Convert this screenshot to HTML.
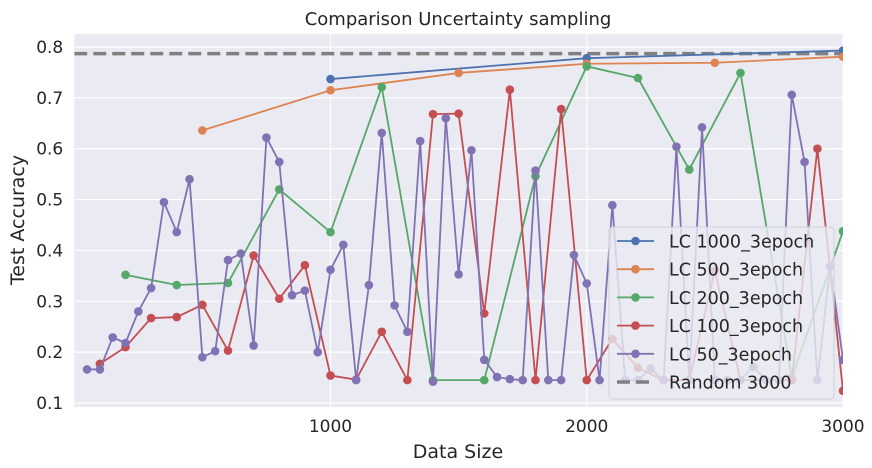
<!DOCTYPE html>
<html><head><meta charset="utf-8"><style>
body{margin:0;background:#fff;}
svg{display:block;font-family:"DejaVu Sans","Liberation Sans",sans-serif;}
</style></head><body>
<svg id="chart" width="872" height="468"></svg>
<script>
const xTicks=[1000,2000,3000];
const yTicks=[0.1,0.2,0.3,0.4,0.5,0.6,0.7,0.8];
const x50=[50,100,150,200,250,300,350,400,450,500,550,600,650,700,750,800,850,900,950,1000,1050,1100,1150,1200,1250,1300,1350,1400,1450,1500,1550,1600,1650,1700,1750,1800,1850,1900,1950,2000,2050,2100,2150,2200,2250,2300,2350,2400,2450,2500,2550,2600,2650,2700,2750,2800,2850,2900,2950,3000];
const y50=[0.166,0.166,0.229,0.218,0.280,0.326,0.495,0.436,0.540,0.190,0.202,0.381,0.394,0.213,0.622,0.574,0.312,0.321,0.200,0.362,0.411,0.145,0.332,0.631,0.292,0.240,0.615,0.142,0.660,0.353,0.597,0.185,0.151,0.147,0.145,0.557,0.145,0.145,0.391,0.335,0.145,0.489,0.145,0.145,0.168,0.145,0.604,0.145,0.642,0.145,0.145,0.145,0.171,0.145,0.145,0.706,0.574,0.145,0.369,0.185];
const x100=[100,200,300,400,500,600,700,800,900,1000,1100,1200,1300,1400,1500,1600,1700,1800,1900,2000,2100,2200,2300,2400,2500,2600,2700,2800,2900,3000];
const y100=[0.177,0.210,0.267,0.269,0.293,0.203,0.390,0.305,0.371,0.154,0.146,0.240,0.145,0.668,0.669,0.276,0.716,0.145,0.678,0.145,0.226,0.169,0.145,0.145,0.360,0.145,0.145,0.145,0.600,0.124];
const x200=[200,400,600,800,1000,1200,1400,1600,1800,2000,2200,2400,2600,2800,3000];
const y200=[0.352,0.332,0.336,0.520,0.436,0.721,0.145,0.145,0.546,0.762,0.739,0.559,0.749,0.150,0.438];
const x500=[500,1000,1500,2000,2500,3000];
const y500=[0.636,0.715,0.749,0.767,0.769,0.781];
const x1000=[1000,2000,3000];
const y1000=[0.737,0.778,0.793];
const randomVal=0.787;

const L=74.25,R=843,T=34,B=407;
const sx=v=>L+v*0.25625;
const sy=v=>47+(0.8-v)*508.6;
const NS="http://www.w3.org/2000/svg";
const svg=document.getElementById('chart');
function mk(tag,attrs,parent){const e=document.createElementNS(NS,tag);for(const k in attrs)e.setAttribute(k,attrs[k]);(parent||svg).appendChild(e);return e;}
const bg=mk('rect',{x:L,y:T,width:R-L,height:B-T,fill:'#eaeaf2'});


const defs=mk('defs',{});
const cp=mk('clipPath',{id:'clip'},defs);mk('rect',{x:L,y:T,width:R-L,height:B-T},cp);
yTicks.forEach(v=>{
  const g=mk('line',{x1:L,x2:R,y1:sy(v),y2:sy(v),stroke:'#fff','stroke-width':1.2});
  
  
  const t=mk('text',{x:L-11,y:sy(v)+6,'text-anchor':'end','font-size':17,fill:'#262626'});
  t.textContent=v.toFixed(1);
  
  
});
xTicks.forEach(v=>{
  const g=mk('line',{x1:sx(v),x2:sx(v),y1:T,y2:B,stroke:'#fff','stroke-width':1.2});
  
  
  const t=mk('text',{x:sx(v),y:432,'text-anchor':'middle','font-size':17,fill:'#262626'});
  t.textContent=String(v);
  
  
});
const plot=mk('g',{'clip-path':'url(#clip)'});


const rl=mk('line',{x1:L,x2:R,y1:sy(randomVal),y2:sy(randomVal),stroke:'#808080','stroke-width':3.5,'stroke-dasharray':'13,6'},plot);


function series(xs,ys,color,name){
  const g=mk('g',{},plot);
  
  
  mk('polyline',{points:xs.map((x,i)=>sx(x)+','+sy(ys[i])).join(' '),fill:'none',stroke:color,'stroke-width':1.8},g);
  xs.forEach((x,i)=>{const c=mk('circle',{cx:sx(x),cy:sy(ys[i]),r:4.3,fill:color},g);
    
    });
}
series(x1000,y1000,'#4c72b0','lc-1000-series');
series(x500,y500,'#dd8452','lc-500-series');
series(x200,y200,'#55a868','lc-200-series');
series(x100,y100,'#c44e52','lc-100-series');
series(x50,y50,'#8172b3','lc-50-series');
// legend
const lg=mk('g',{});


mk('rect',{x:609,y:227,width:225,height:172,rx:4,fill:'rgba(234,234,242,0.8)',stroke:'#d0d0d8','stroke-width':1},lg);
const ents=[['LC 1000_3epoch','#4c72b0'],['LC 500_3epoch','#dd8452'],['LC 200_3epoch','#55a868'],['LC 100_3epoch','#c44e52'],['LC 50_3epoch','#8172b3'],['Random 3000','#808080']];
ents.forEach((e,i)=>{
  const y=241+i*28.2;
  const g=mk('g',{},lg);
  
  
  if(i<5){mk('line',{x1:617,x2:654,y1:y,y2:y,stroke:e[1],'stroke-width':1.8},g);mk('circle',{cx:635.5,cy:y,r:4.3,fill:e[1]},g);}
  else mk('line',{x1:617,x2:654,y1:y,y2:y,stroke:e[1],'stroke-width':3.5,'stroke-dasharray':'13,6'},g);
  const t=mk('text',{x:669,y:y+6.5,'font-size':17.5,fill:'#262626'},g);t.textContent=e[0];
});
const ti=mk('text',{x:458,y:25,'text-anchor':'middle','font-size':18,fill:'#262626'});
ti.textContent='Comparison Uncertainty sampling';


const xt=mk('text',{x:458,y:458,'text-anchor':'middle','font-size':19,fill:'#262626'});
xt.textContent='Data Size';


const yt=mk('text',{x:0,y:0,'text-anchor':'middle','font-size':19,fill:'#262626',transform:'translate(24,220) rotate(-90)'});
yt.textContent='Test Accuracy';


</script>
</body></html>
